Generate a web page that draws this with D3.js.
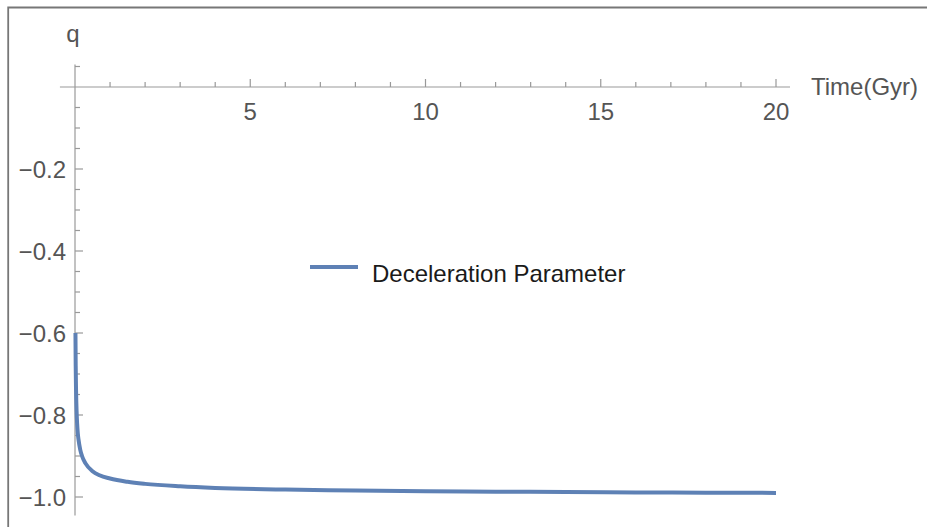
<!DOCTYPE html>
<html>
<head>
<meta charset="utf-8">
<script src="https://cdn.jsdelivr.net/npm/d3@7/dist/d3.min.js"></script>
<style>
  html, body { margin: 0; padding: 0; background: #fff; }
  svg { display: block; }
  text { font-family: "Liberation Sans", Arial, sans-serif; }
</style>
</head>
<body>
<svg id="chart" width="927" height="527"></svg>
<script>
// Deceleration parameter q as a function of cosmic time (Gyr)
const timeGyr = [0.013, 0.02, 0.03, 0.045, 0.06, 0.08, 0.1, 0.15, 0.2, 0.3, 0.5, 0.7, 1, 1.5, 2, 3, 4, 6, 8, 10, 12, 14, 16, 18, 20];
const qValues = [-0.60, -0.68, -0.74, -0.79, -0.82, -0.845, -0.86, -0.885, -0.90, -0.918, -0.937, -0.947, -0.955, -0.963, -0.968, -0.974, -0.978, -0.982, -0.984, -0.986, -0.987, -0.988, -0.989, -0.9895, -0.990];

const xMajorTicks = [5, 10, 15, 20];
const xMinorTicks = [1, 2, 3, 4, 6, 7, 8, 9, 11, 12, 13, 14, 16, 17, 18, 19];
const yMajorTicks = [-0.2, -0.4, -0.6, -0.8, -1.0];
const yMinorTicks = [0.05, -0.05, -0.1, -0.15, -0.25, -0.3, -0.35, -0.45, -0.5, -0.55, -0.65, -0.7, -0.75, -0.85, -0.9, -0.95];

const seriesName = "Deceleration Parameter";
const xLabel = "Time(Gyr)";
const yLabel = "q";

const svg = d3.select("#chart");

// frame
svg.append("path")
  .attr("d", "M8.2,527 V7.5 H927")
  .attr("fill", "none")
  .attr("stroke", "#777")
  .attr("stroke-width", 1.8);

const x = d3.scaleLinear().domain([0, 20]).range([75, 776]);
const y = d3.scaleLinear().domain([0, -1]).range([87, 497]);

const axisColor = "#999";
const labelColor = "#555";

// x axis line
svg.append("line")
  .attr("x1", x(-0.43)).attr("x2", x(20.4))
  .attr("y1", y(0)).attr("y2", y(0))
  .attr("stroke", axisColor).attr("stroke-width", 1.2);

// y axis line
svg.append("line")
  .attr("x1", x(0)).attr("x2", x(0))
  .attr("y1", y(0.055)).attr("y2", y(-1.045))
  .attr("stroke", axisColor).attr("stroke-width", 1.2);

// x ticks (pointing upward)
const xTickG = svg.append("g").attr("stroke", axisColor).attr("stroke-width", 1.2);
xTickG.selectAll(".xmaj").data(xMajorTicks).join("line")
  .attr("x1", d => x(d)).attr("x2", d => x(d))
  .attr("y1", y(0)).attr("y2", y(0) - 8);
xTickG.selectAll(".xmin").data(xMinorTicks).join("line")
  .attr("x1", d => x(d)).attr("x2", d => x(d))
  .attr("y1", y(0)).attr("y2", y(0) - 5);

svg.selectAll(".xlab").data(xMajorTicks).join("text")
  .attr("x", d => x(d)).attr("y", 120)
  .attr("text-anchor", "middle")
  .attr("font-size", 24)
  .attr("fill", labelColor)
  .text(d => d);

// y ticks (pointing right)
const yTickG = svg.append("g").attr("stroke", axisColor).attr("stroke-width", 1.2);
yTickG.selectAll(".ymaj").data(yMajorTicks).join("line")
  .attr("x1", x(0)).attr("x2", x(0) + 8)
  .attr("y1", d => y(d)).attr("y2", d => y(d));
yTickG.selectAll(".ymin").data(yMinorTicks).join("line")
  .attr("x1", x(0)).attr("x2", x(0) + 5)
  .attr("y1", d => y(d)).attr("y2", d => y(d));

svg.selectAll(".ylab").data(yMajorTicks).join("text")
  .attr("x", 66).attr("y", d => y(d) + 9)
  .attr("text-anchor", "end")
  .attr("font-size", 24)
  .attr("fill", labelColor)
  .text(d => "\u2212" + d3.format(".1f")(-d));

// axis titles
svg.append("text")
  .attr("x", 73).attr("y", 42)
  .attr("text-anchor", "middle")
  .attr("font-size", 24)
  .attr("fill", labelColor)
  .text(yLabel);

svg.append("text")
  .attr("x", 811).attr("y", 95)
  .attr("font-size", 24)
  .attr("fill", labelColor)
  .text(xLabel);

// curve
const pts = timeGyr.map((t, i) => [t, qValues[i]]);
const line = d3.line()
  .x(d => x(d[0]))
  .y(d => y(d[1]))
  .curve(d3.curveMonotoneX);

svg.append("path")
  .datum(pts)
  .attr("d", line)
  .attr("fill", "none")
  .attr("stroke", "#5E81B5")
  .attr("stroke-width", 4)
  .attr("stroke-linejoin", "round");

// legend
svg.append("line")
  .attr("x1", 310).attr("x2", 358)
  .attr("y1", 267).attr("y2", 267)
  .attr("stroke", "#5E81B5")
  .attr("stroke-width", 4);

svg.append("text")
  .attr("x", 372).attr("y", 282)
  .attr("font-size", 24)
  .attr("fill", "#1a1a1a")
  .text(seriesName);
</script>
</body>
</html>
